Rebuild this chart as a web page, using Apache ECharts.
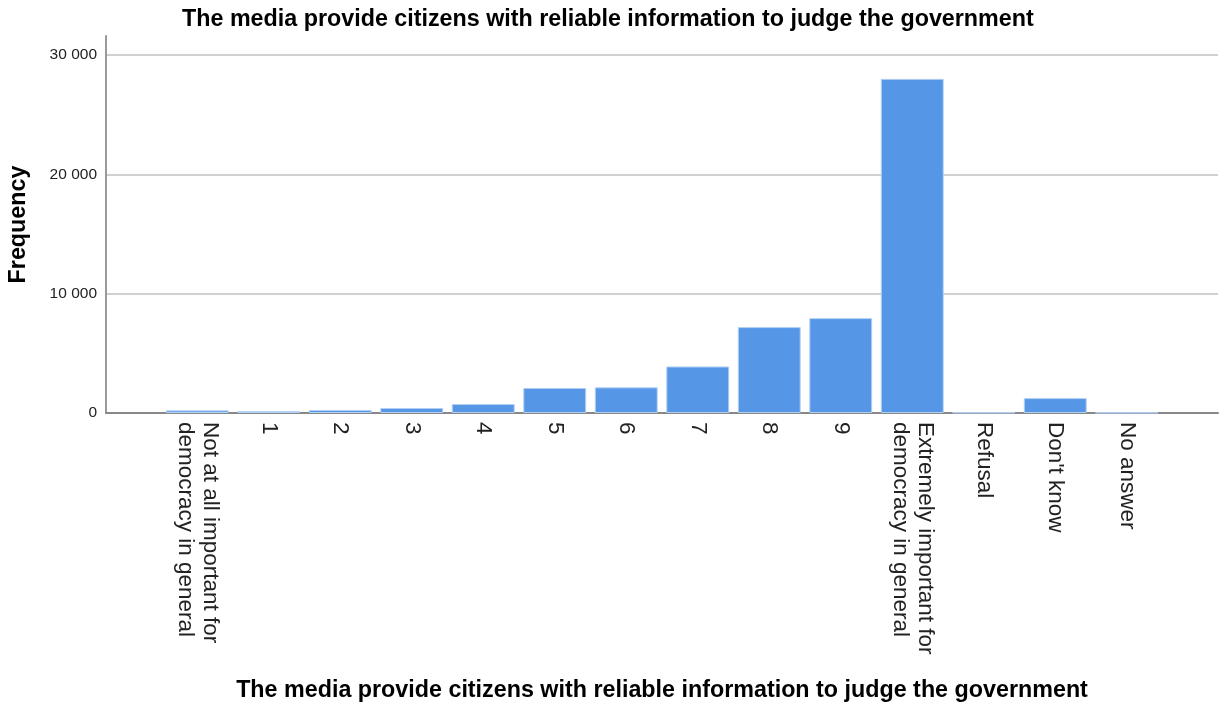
<!DOCTYPE html>
<html>
<head>
<meta charset="utf-8">
<script src="https://cdn.jsdelivr.net/npm/echarts@6/dist/echarts.min.js"></script>
<style>
  html, body { margin: 0; padding: 0; background: #fff; }
  #chart { width: 1220px; height: 704px; }
</style>
</head>
<body>
<div id="chart"></div>
<script>
// categories and counts
var categories = [
  'Not at all important for\ndemocracy in general',
  '1', '2', '3', '4', '5', '6', '7', '8', '9',
  'Extremely important for\ndemocracy in general',
  'Refusal', "Don't know", 'No answer'
];
var frequency = [220, 150, 250, 420, 750, 2100, 2150, 3900, 7200, 7950, 28000, 40, 1250, 30];
var yTicks = [0, 10000, 20000, 30000];

var titleText = 'The media provide citizens with reliable information to judge the government';
var font = '"Liberation Sans", Arial, sans-serif';

var myChart = echarts.init(document.getElementById('chart'));

myChart.setOption({
  animation: false,
  title: {
    text: titleText,
    left: 177,
    top: 3,
    textStyle: { fontFamily: font, fontSize: 23.3, fontWeight: 'bold', color: '#000' }
  },
  grid: [
    // frame: y axis line that reaches above 30 000, and the baseline
    { left: 106, right: 2, top: 36, bottom: 291, outerBoundsMode: 'none' },
    // gridlines and tick labels
    { left: 106, right: 2, top: 55, bottom: 291, outerBoundsMode: 'none' },
    // bars
    { left: 161.5, right: 57.5, top: 55, bottom: 291, outerBoundsMode: 'none' }
  ],
  xAxis: [
    {
      gridIndex: 0, type: 'value', min: 0, max: 1,
      axisLine: { show: true, lineStyle: { color: '#888', width: 2 } },
      axisTick: { show: false }, axisLabel: { show: false }, splitLine: { show: false }
    },
    {
      gridIndex: 1, type: 'value', show: false
    },
    {
      gridIndex: 2, type: 'category', data: categories,
      axisLine: { show: false }, axisTick: { show: false },
      axisLabel: {
        interval: 0, rotate: -90, margin: 9,
        fontFamily: font, fontSize: 22.5, color: '#222', lineHeight: 25
      },
      name: titleText, nameLocation: 'middle', nameGap: 266,
      nameTextStyle: { fontFamily: font, fontSize: 23.3, fontWeight: 'bold', color: '#000' }
    }
  ],
  yAxis: [
    {
      gridIndex: 0, type: 'value', min: 0, max: 1,
      axisLine: { show: true, lineStyle: { color: '#999', width: 2 } },
      axisTick: { show: false }, axisLabel: { show: false }, splitLine: { show: false },
      name: 'Frequency', nameLocation: 'middle', nameGap: 76,
      nameTextStyle: { fontFamily: font, fontSize: 23.3, fontWeight: 'bold', color: '#000' }
    },
    {
      gridIndex: 1, type: 'value', min: yTicks[0], max: yTicks[yTicks.length - 1], interval: 10000,
      axisLine: { show: false }, axisTick: { show: false },
      axisLabel: {
        margin: 9, fontFamily: font, fontSize: 15.5, color: '#222',
        formatter: function (v) { return String(v).replace(/\B(?=(\d{3})+(?!\d))/g, ' '); }
      },
      splitLine: { show: true, lineStyle: { color: '#d0d0d0', width: 2 } }
    },
    {
      gridIndex: 2, type: 'value', min: yTicks[0], max: yTicks[yTicks.length - 1], show: false
    }
  ],
  series: [
    {
      type: 'bar',
      xAxisIndex: 2, yAxisIndex: 2,
      data: frequency,
      barCategoryGap: '12%',
      itemStyle: { color: '#5596e6', borderColor: '#b3d0f3', borderWidth: 1 }
    }
  ]
});
</script>
</body>
</html>
